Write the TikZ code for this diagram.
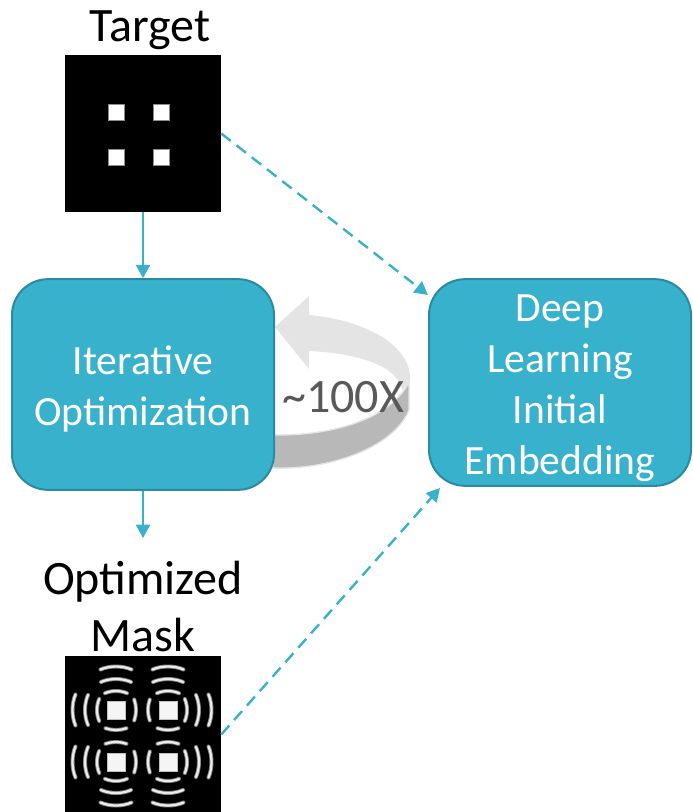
\documentclass[tikz,border=0pt]{standalone}
\usepackage{fontspec}
\setmainfont{Carlito}
\usetikzlibrary{arrows.meta}
\definecolor{tealfill}{HTML}{38B1CD}
\definecolor{tealedge}{HTML}{2A8AA3}
\definecolor{bandlight}{HTML}{E4E4E4}
\definecolor{banddark}{HTML}{B8B8B8}
\definecolor{countgray}{HTML}{595959}
\tikzset{
  x=0.75pt,y=-0.75pt,
  procbox/.style={draw=tealedge,line width=1.5pt,fill=tealfill,rounded corners=27pt,inner sep=0pt},
  proctext/.style={text=white,inner sep=0pt,align=center,font=\fontsize{31.2}{38.25}\selectfont},
  caption/.style={inner sep=0pt,align=center,text=black,font=\fontsize{36}{42.75}\selectfont},
  imagesq/.style={fill=black,draw=none,inner sep=0pt,minimum width=117pt,minimum height=117.5pt},
  flow/.style={draw=tealfill,line width=1.8pt,-{Triangle[length=10pt,width=10.5pt]}},
  flowdash/.style={flow,dash pattern=on 9pt off 5.5pt},
  whitesq/.style={fill=white,draw=black!45,line width=.5pt},
  ringblur/.style={draw=white!50!black,line width=3pt,line cap=round},
  ringcore/.style={draw=white!92!black,line width=1.7pt,line cap=round},
}
\newcommand{\ringarc}[3]{% distance, half width, sag
  \draw[ringblur] (-#2,-#1+#3) .. controls (-#2*.4,-#1-#3*.33) and (#2*.4,-#1-#3*.33) .. (#2,-#1+#3);
  \draw[ringcore] (-#2,-#1+#3) .. controls (-#2*.4,-#1-#3*.33) and (#2*.4,-#1-#3*.33) .. (#2,-#1+#3);
}
\newcommand{\sideset}[3]{% cx, cy, rotation: three outward rings
  \begin{scope}[shift={(#1,#2)},rotate=#3]
    \ringarc{19}{11}{2.2}\ringarc{31}{15}{3}\ringarc{43.5}{15.5}{3}
  \end{scope}}
\newcommand{\innerring}[3]{%
  \begin{scope}[shift={(#1,#2)},rotate=#3]
    \ringarc{20}{10.5}{1.8}
  \end{scope}}
\begin{document}
\begin{tikzpicture}
\useasboundingbox (0,0) rectangle (692,812);

% images
\node[imagesq] (target) at (143,133.5) {};
\node[imagesq] (mask) at (143,734.5) {};
\foreach \cx/\cy in {116/112,161/112,116/157,161/157}
  \draw[whitesq] (\cx-8,\cy-8) rectangle (\cx+8,\cy+8);

% mask rings
\sideset{116}{710}{0}\sideset{168}{710}{0}
\sideset{116}{762}{180}\sideset{168}{762}{180}
\sideset{116}{710}{90}\sideset{116}{762}{90}
\sideset{168}{710}{-90}\sideset{168}{762}{-90}
\innerring{116}{710}{180}\innerring{168}{710}{180}
\innerring{116}{762}{0}\innerring{168}{762}{0}
\innerring{116}{710}{-90}\innerring{116}{762}{-90}
\innerring{168}{710}{90}\innerring{168}{762}{90}
\foreach \cx/\cy in {116/710,168/710,116/762,168/762}
  \fill[white!96!black,draw=black!25,line width=.5pt] (\cx-9,\cy-9) rectangle (\cx+9,\cy+9);

% circular arrow, side band
\fill[banddark,draw=bandlight,line width=1pt]
  (273,435) .. controls (330,436) and (390,420) .. (409,382)
  -- (409,410) .. controls (395,445) and (335,470) .. (273,468) -- cycle;
% circular arrow, top band
\fill[bandlight]
  (275,327) -- (309,296) -- (309,315)
  .. controls (365,320) and (410,345) .. (410,378)
  .. controls (409,384) and (405,388) .. (402,390)
  .. controls (398,365) and (355,353) .. (309,351)
  -- (309,369) -- cycle;

% boxes
\node[procbox,minimum width=196.5pt,minimum height=158pt] (iter) at (143,384.5) {};
\node[procbox,minimum width=196.5pt,minimum height=155pt] (deep) at (560,382.5) {};
\node[proctext] (itertext) at (143,389) {Iterative\\Optimization};
\node[proctext] (deeptext) at (560,388) {Deep\\Learning\\Initial\\Embedding};

% labels
\node[caption] (tlabel) at (150,30) {Target};
\node[caption] (mlabel) at (143,606.5) {Optimized\\Mask};
\node[inner sep=0pt,text=countgray,font=\fontsize{36}{36}\selectfont] (count) at (343,397) {\textasciitilde 100X};

% connectors
\coordinate (deepin1) at (428,295);
\coordinate (deepin2) at (440,488);
\coordinate (maskin) at (143,538);
\draw[flow] (target.south) -- (iter.north);
\draw[flow] (iter.south) -- (maskin);
\draw[flowdash] (target.east) -- (deepin1);
\draw[flowdash] (mask.east) -- (deepin2);
\end{tikzpicture}
\end{document}
